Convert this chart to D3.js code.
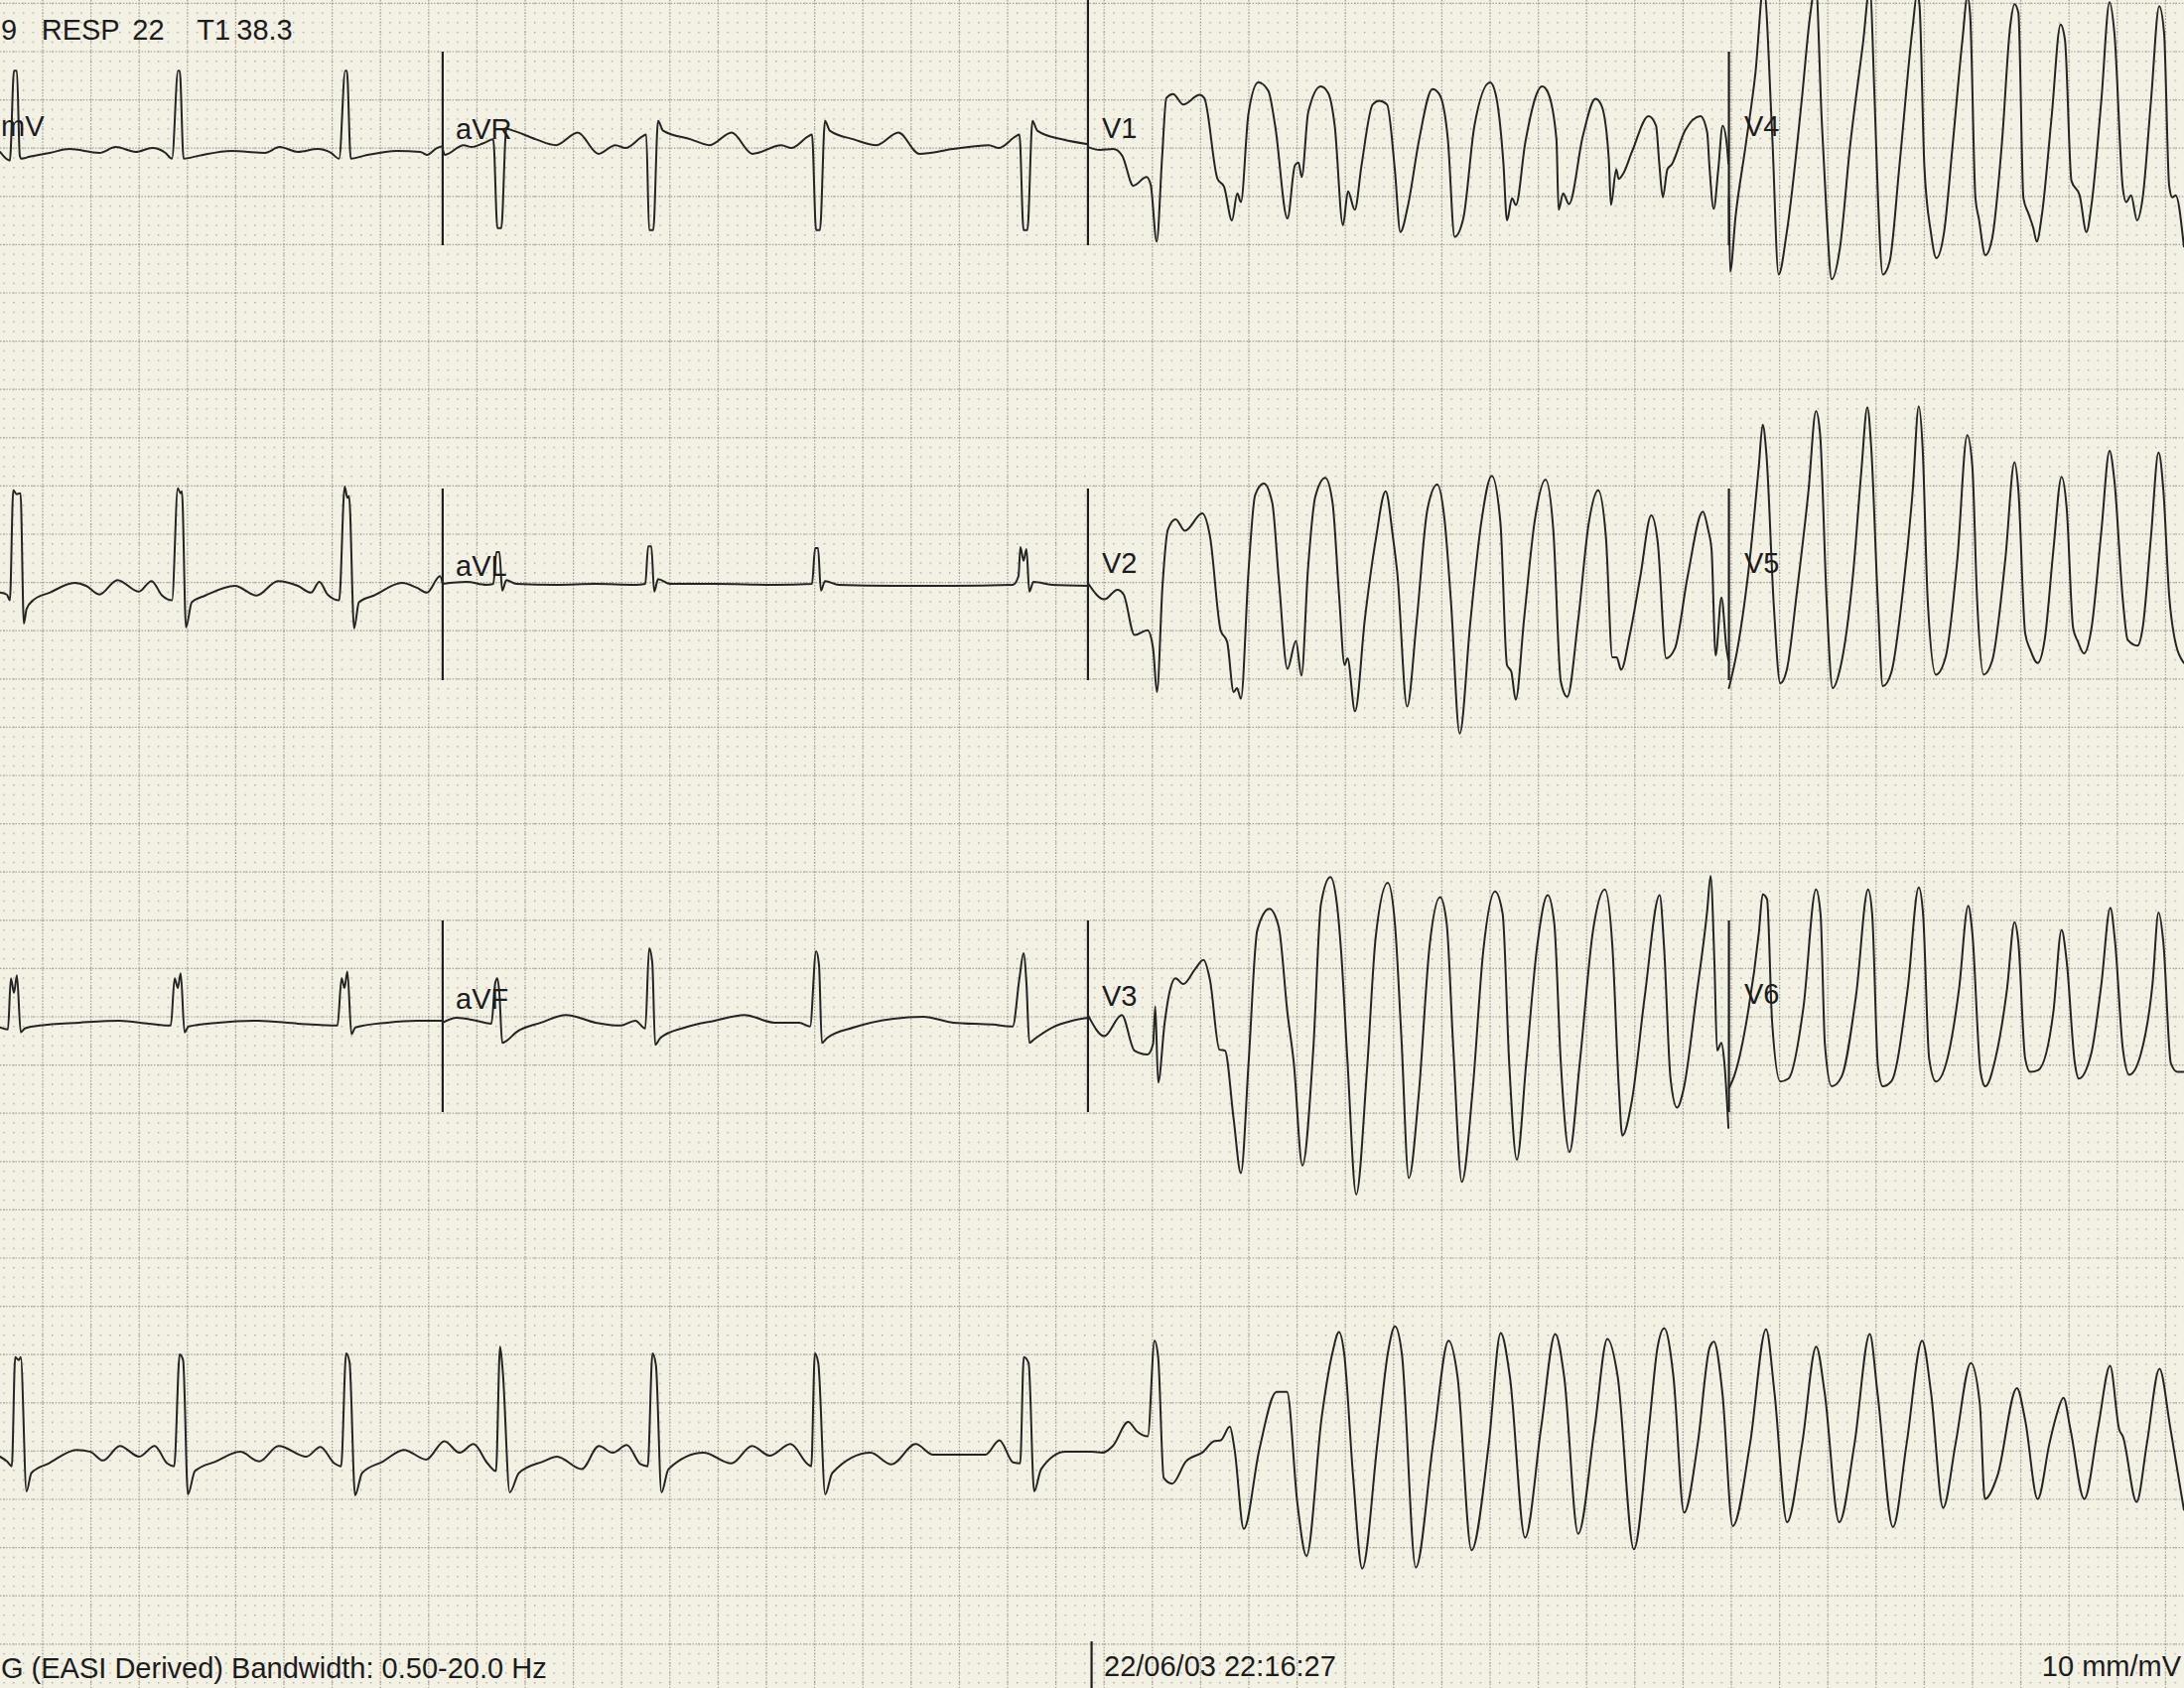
<!DOCTYPE html>
<html><head><meta charset="utf-8">
<script src="https://cdn.jsdelivr.net/npm/d3@7"></script>
<style>html,body{margin:0;padding:0;background:#f3f1e6;overflow:hidden}svg{display:block}</style>
</head><body><svg id="c" width="2200" height="1700"></svg>
<script>
// ---- DATA: [time (s), amplitude (mV)] ----
const leadI=[[0,-0.01],[0.041,-0.10],[0.058,0.83],[0.070,0.83],[0.082,-0.05],[0.089,-0.08],[0.123,-0.06],[0.206,-0.02],[0.288,0.02],[0.412,-0.02],[0.480,0.04],[0.563,-0.01],[0.631,0.03],[0.686,-0.02],[0.713,-0.08],[0.738,0.83],[0.745,0.83],[0.761,-0.08],[0.823,-0.05],[0.960,0.00],[1.098,-0.02],[1.159,0.04],[1.235,-0.01],[1.317,0.02],[1.372,-0.02],[1.406,-0.08],[1.431,0.83],[1.438,0.83],[1.454,-0.08],[1.509,-0.05],[1.646,0.00],[1.742,-0.01],[1.770,-0.04],[1.811,0.03],[1.835,0.05]];
const leadII=[[0,-0.07],[0.028,-0.09],[0.041,-0.15],[0.055,0.99],[0.069,0.95],[0.085,0.96],[0.099,-0.39],[0.110,-0.24],[0.137,-0.15],[0.206,-0.07],[0.309,0.03],[0.357,0.00],[0.412,-0.09],[0.487,0.06],[0.576,-0.06],[0.628,0.05],[0.672,-0.10],[0.713,-0.15],[0.737,1.01],[0.748,0.96],[0.754,0.98],[0.771,-0.43],[0.795,-0.17],[0.851,-0.10],[0.974,0.00],[1.063,-0.10],[1.152,0.05],[1.235,0.00],[1.289,-0.07],[1.324,0.04],[1.358,-0.09],[1.406,-0.15],[1.429,1.03],[1.440,0.91],[1.447,0.93],[1.468,-0.44],[1.488,-0.17],[1.550,-0.10],[1.667,0.03],[1.728,-0.02],[1.770,-0.07],[1.824,0.10],[1.835,0.02]];
const leadIII=[[0,-0.08],[0.033,-0.10],[0.045,0.43],[0.058,0.28],[0.070,0.46],[0.086,-0.13],[0.103,-0.09],[0.165,-0.06],[0.329,-0.03],[0.494,-0.01],[0.617,-0.04],[0.708,-0.06],[0.724,0.43],[0.737,0.33],[0.749,0.48],[0.765,-0.13],[0.782,-0.07],[0.905,-0.03],[1.070,-0.01],[1.235,-0.04],[1.399,-0.06],[1.416,0.43],[1.428,0.33],[1.440,0.50],[1.457,-0.15],[1.473,-0.08],[1.605,-0.03],[1.728,-0.01],[1.835,-0.01]];
const aVR=[[1.835,0.02],[1.844,-0.04],[1.922,0.06],[1.955,0.04],[2.004,0.08],[2.045,0.12],[2.062,-0.80],[2.078,-0.80],[2.099,0.23],[2.128,0.21],[2.222,0.12],[2.305,0.06],[2.395,0.19],[2.481,-0.03],[2.551,0.06],[2.593,0.03],[2.663,0.15],[2.679,0.17],[2.691,-0.82],[2.708,-0.82],[2.728,0.31],[2.749,0.21],[2.864,0.12],[2.942,0.06],[3.033,0.19],[3.119,-0.03],[3.239,0.06],[3.280,0.03],[3.350,0.15],[3.366,0.17],[3.383,-0.82],[3.399,-0.82],[3.420,0.31],[3.440,0.21],[3.539,0.12],[3.634,0.06],[3.724,0.19],[3.811,-0.03],[3.951,0.02],[4.099,0.06],[4.140,0.03],[4.210,0.15],[4.226,0.17],[4.243,-0.82],[4.259,-0.82],[4.280,0.31],[4.300,0.21],[4.403,0.12],[4.510,0.07]];
const aVL=[[1.835,0.02],[1.934,0.04],[2.016,0.01],[2.045,0.02],[2.058,0.35],[2.070,0.35],[2.082,-0.05],[2.099,0.06],[2.140,0.02],[2.305,0.01],[2.469,0.02],[2.634,0.01],[2.675,0.02],[2.687,0.41],[2.700,0.41],[2.712,-0.06],[2.728,0.07],[2.778,0.02],[2.963,0.02],[3.210,0.01],[3.366,0.02],[3.379,0.39],[3.391,0.39],[3.403,-0.05],[3.420,0.05],[3.477,0.01],[3.704,0.00],[3.951,0.00],[4.198,0.01],[4.222,0.10],[4.230,0.40],[4.243,0.26],[4.255,0.38],[4.267,-0.06],[4.284,0.04],[4.362,0.01],[4.510,0.00]];
const aVF=[[1.835,-0.03],[1.893,0.02],[1.975,-0.01],[2.037,-0.04],[2.053,0.38],[2.062,0.43],[2.070,0.28],[2.082,-0.24],[2.099,-0.22],[2.140,-0.13],[2.243,-0.03],[2.346,0.05],[2.469,-0.03],[2.572,-0.06],[2.634,-0.01],[2.675,-0.09],[2.691,0.74],[2.704,0.59],[2.716,-0.26],[2.737,-0.19],[2.840,-0.08],[2.963,-0.01],[3.086,0.05],[3.210,-0.03],[3.313,-0.03],[3.358,-0.07],[3.383,0.71],[3.395,0.57],[3.407,-0.24],[3.428,-0.19],[3.539,-0.08],[3.704,0.01],[3.827,0.03],[3.951,-0.03],[4.115,-0.05],[4.198,-0.07],[4.226,0.43],[4.243,0.69],[4.255,0.38],[4.267,-0.24],[4.288,-0.20],[4.362,-0.08],[4.444,-0.01],[4.510,0.02]];
const V1=[[4.510,0.04],[4.560,0.01],[4.615,0.02],[4.652,-0.05],[4.698,-0.36],[4.753,-0.27],[4.770,-0.35],[4.795,-0.94],[4.817,-0.08],[4.835,0.55],[4.863,0.59],[4.905,0.48],[4.973,0.58],[4.992,0.55],[5.047,-0.29],[5.074,-0.37],[5.107,-0.72],[5.129,-0.44],[5.144,-0.53],[5.175,0.38],[5.216,0.71],[5.258,0.62],[5.286,0.26],[5.337,-0.70],[5.368,-0.15],[5.383,-0.12],[5.396,-0.27],[5.423,0.40],[5.475,0.67],[5.506,0.60],[5.533,0.26],[5.567,-0.77],[5.588,-0.42],[5.616,-0.61],[5.644,-0.15],[5.690,0.48],[5.717,0.52],[5.750,0.48],[5.782,-0.19],[5.805,-0.84],[5.837,-0.56],[5.883,0.12],[5.938,0.64],[5.966,0.59],[6.002,0.12],[6.030,-0.89],[6.066,-0.70],[6.112,0.26],[6.177,0.71],[6.199,0.60],[6.232,-0.12],[6.247,-0.72],[6.268,-0.49],[6.284,-0.56],[6.323,0.09],[6.393,0.67],[6.416,0.61],[6.452,0.12],[6.461,-0.61],[6.480,-0.44],[6.504,-0.55],[6.562,0.16],[6.614,0.54],[6.639,0.47],[6.669,-0.08],[6.678,-0.56],[6.700,-0.19],[6.710,-0.29],[6.728,-0.24],[6.765,-0.01],[6.834,0.36],[6.865,0.26],[6.878,-0.12],[6.893,-0.48],[6.912,-0.19],[6.930,-0.14],[6.985,0.21],[7.049,0.36],[7.077,0.19],[7.086,-0.15],[7.104,-0.60],[7.123,-0.19],[7.141,0.26],[7.159,0.05],[7.165,-0.13]];
const V2=[[4.512,0.02],[4.578,-0.14],[4.632,-0.04],[4.658,-0.09],[4.703,-0.51],[4.757,-0.46],[4.780,-0.65],[4.796,-1.10],[4.819,0.00],[4.841,0.58],[4.873,0.69],[4.912,0.57],[4.984,0.75],[5.016,0.51],[5.060,-0.46],[5.087,-0.58],[5.114,-1.10],[5.128,-1.06],[5.144,-1.17],[5.176,0.17],[5.203,0.94],[5.239,1.06],[5.274,0.86],[5.301,0.07],[5.337,-0.86],[5.372,-0.57],[5.395,-0.93],[5.422,0.17],[5.453,0.93],[5.494,1.12],[5.524,0.86],[5.551,-0.10],[5.574,-0.82],[5.586,-0.75],[5.617,-1.30],[5.658,-0.34],[5.703,0.48],[5.744,0.98],[5.774,0.51],[5.792,0.14],[5.833,-1.25],[5.872,-0.38],[5.917,0.79],[5.958,1.05],[5.988,0.69],[6.015,-0.17],[6.051,-1.53],[6.095,-0.38],[6.140,0.65],[6.184,1.14],[6.220,0.65],[6.247,-0.82],[6.265,-0.89],[6.283,-1.18],[6.318,-0.34],[6.363,0.69],[6.407,1.10],[6.439,0.58],[6.470,-0.99],[6.497,-1.15],[6.541,-0.38],[6.586,0.65],[6.625,0.99],[6.657,0.51],[6.684,-0.74],[6.702,-0.74],[6.720,-0.87],[6.756,-0.51],[6.800,0.10],[6.845,0.73],[6.872,0.45],[6.907,-0.75],[6.943,-0.65],[6.996,0.10],[7.059,0.77],[7.081,0.58],[7.095,0.38],[7.112,-0.72],[7.136,-0.12],[7.157,-0.65],[7.165,-0.77]];
const V3=[[4.512,0.04],[4.578,-0.17],[4.650,0.05],[4.703,-0.32],[4.757,-0.36],[4.780,-0.25],[4.789,0.14],[4.801,-0.65],[4.828,-0.03],[4.846,0.26],[4.873,0.43],[4.905,0.37],[4.953,0.52],[4.989,0.62],[5.016,0.41],[5.055,-0.31],[5.078,-0.32],[5.114,-1.03],[5.144,-1.59],[5.176,-0.44],[5.212,0.93],[5.262,1.15],[5.301,0.96],[5.337,0.07],[5.363,-0.44],[5.399,-1.51],[5.444,-0.31],[5.476,1.20],[5.515,1.48],[5.542,1.20],[5.560,0.69],[5.586,-0.44],[5.622,-1.81],[5.667,-0.51],[5.703,0.86],[5.753,1.42],[5.783,0.98],[5.809,-0.17],[5.840,-1.64],[5.881,-0.78],[5.926,0.76],[5.970,1.27],[5.997,1.00],[6.024,-0.27],[6.060,-1.68],[6.104,-0.75],[6.149,0.72],[6.197,1.33],[6.229,1.10],[6.256,-0.44],[6.288,-1.45],[6.327,-0.44],[6.372,0.76],[6.416,1.29],[6.443,1.00],[6.470,-0.44],[6.506,-1.37],[6.549,-0.44],[6.604,0.93],[6.653,1.35],[6.684,0.76],[6.711,-0.72],[6.725,-1.20],[6.764,-0.85],[6.818,0.24],[6.880,1.29],[6.898,0.76],[6.925,-0.61],[6.952,-0.91],[6.979,-0.72],[7.032,0.24],[7.077,1.13],[7.091,1.49],[7.107,0.59],[7.118,-0.32],[7.136,-0.24],[7.148,-0.44],[7.165,-1.12]];
const V4=[[7.167,-0.49],[7.172,-1.25],[7.195,-0.67],[7.236,0.05],[7.277,0.81],[7.311,1.71],[7.346,0.19],[7.373,-1.28],[7.407,-0.84],[7.469,0.53],[7.503,1.39],[7.527,1.73],[7.551,0.36],[7.572,-0.67],[7.593,-1.33],[7.627,-1.01],[7.668,0.02],[7.723,1.12],[7.751,1.69],[7.771,0.53],[7.785,-0.49],[7.805,-1.28],[7.833,-1.15],[7.874,-0.15],[7.929,1.29],[7.947,1.63],[7.957,1.51],[7.977,-0.15],[8.004,-0.84],[8.027,-1.11],[8.059,-0.84],[8.093,0.02],[8.135,1.15],[8.156,1.60],[8.167,1.41],[8.189,-0.49],[8.203,-0.70],[8.230,-1.08],[8.258,-0.91],[8.299,0.09],[8.333,1.29],[8.351,1.52],[8.367,1.43],[8.388,-0.49],[8.409,-0.65],[8.429,-0.80],[8.443,-0.94],[8.464,-0.67],[8.505,0.36],[8.542,1.31],[8.560,1.15],[8.587,-0.31],[8.621,-0.46],[8.649,-0.84],[8.670,-0.56],[8.711,0.53],[8.745,1.54],[8.765,1.22],[8.800,-0.39],[8.814,-0.53],[8.834,-0.46],[8.859,-0.72],[8.882,-0.49],[8.917,0.53],[8.951,1.50],[8.971,1.22],[8.992,-0.36],[9.005,-0.48],[9.019,-0.46],[9.053,-0.99]];
const V5=[[7.167,-1.06],[7.202,-0.66],[7.256,0.33],[7.291,1.24],[7.307,1.67],[7.322,1.38],[7.353,-0.20],[7.380,-1.01],[7.407,-0.87],[7.449,-0.06],[7.497,0.99],[7.528,1.81],[7.545,1.57],[7.572,-0.15],[7.597,-1.06],[7.627,-0.87],[7.682,0.13],[7.716,1.19],[7.741,1.85],[7.757,1.43],[7.785,-0.20],[7.805,-1.04],[7.840,-0.90],[7.888,-0.06],[7.929,0.99],[7.954,1.86],[7.970,1.43],[7.991,-0.15],[8.025,-0.92],[8.066,-0.73],[8.114,0.28],[8.155,1.56],[8.176,1.24],[8.196,-0.15],[8.223,-0.92],[8.258,-0.78],[8.313,0.28],[8.351,1.28],[8.367,0.99],[8.395,-0.49],[8.416,-0.66],[8.447,-0.80],[8.477,-0.54],[8.512,0.37],[8.546,1.13],[8.567,0.81],[8.594,-0.44],[8.614,-0.58],[8.639,-0.70],[8.670,-0.44],[8.711,0.57],[8.745,1.40],[8.765,1.09],[8.800,-0.15],[8.820,-0.56],[8.861,-0.62],[8.882,-0.44],[8.917,0.52],[8.948,1.38],[8.968,0.99],[8.992,-0.10],[9.012,-0.51],[9.053,-0.80]];
const V6=[[7.167,-0.71],[7.188,-0.59],[7.243,0.03],[7.291,0.90],[7.307,1.30],[7.325,1.25],[7.346,-0.02],[7.380,-0.64],[7.414,-0.61],[7.476,0.13],[7.528,1.35],[7.547,1.09],[7.565,-0.26],[7.593,-0.69],[7.634,-0.59],[7.695,0.27],[7.744,1.35],[7.761,1.09],[7.785,-0.49],[7.805,-0.69],[7.840,-0.64],[7.908,0.32],[7.954,1.37],[7.972,1.09],[7.997,-0.40],[8.025,-0.64],[8.073,-0.40],[8.121,0.32],[8.159,1.18],[8.176,0.90],[8.210,-0.54],[8.230,-0.69],[8.272,-0.40],[8.320,0.32],[8.351,1.01],[8.367,0.80],[8.395,-0.40],[8.416,-0.54],[8.450,-0.52],[8.512,0.08],[8.546,0.93],[8.567,0.61],[8.601,-0.45],[8.617,-0.61],[8.669,-0.35],[8.711,0.37],[8.748,1.16],[8.768,0.80],[8.800,-0.30],[8.827,-0.57],[8.875,-0.35],[8.923,0.37],[8.948,1.11],[8.968,0.80],[8.999,-0.45],[9.026,-0.54],[9.053,-0.54]];
const rhythm=[[0,-0.01],[0.029,-0.06],[0.049,-0.11],[0.063,1.02],[0.078,0.99],[0.086,1.02],[0.110,-0.37],[0.130,-0.18],[0.202,-0.08],[0.318,0.06],[0.375,0.04],[0.427,-0.05],[0.497,0.10],[0.577,-0.01],[0.641,0.10],[0.693,-0.08],[0.722,-0.11],[0.745,1.05],[0.759,0.99],[0.779,-0.40],[0.808,-0.16],[0.895,-0.06],[0.996,0.04],[1.074,-0.06],[1.155,0.10],[1.270,-0.01],[1.328,0.09],[1.386,-0.08],[1.414,-0.11],[1.435,1.06],[1.449,0.97],[1.472,-0.41],[1.501,-0.18],[1.588,-0.06],[1.674,0.06],[1.767,-0.04],[1.842,0.15],[1.905,0.03],[1.963,0.12],[2.021,-0.08],[2.056,-0.16],[2.073,1.13],[2.084,0.88],[2.113,-0.38],[2.151,-0.18],[2.252,-0.06],[2.309,-0.01],[2.411,-0.14],[2.483,0.10],[2.540,0.03],[2.598,0.11],[2.656,-0.09],[2.685,-0.11],[2.705,1.06],[2.719,0.94],[2.742,-0.38],[2.771,-0.14],[2.916,0.03],[3.031,-0.08],[3.118,0.10],[3.190,0.00],[3.277,0.12],[3.349,-0.09],[3.363,-0.11],[3.378,1.06],[3.392,0.96],[3.421,-0.40],[3.450,-0.18],[3.609,0.03],[3.695,-0.09],[3.796,0.12],[3.868,0.01],[4.085,0.01],[4.143,0.16],[4.200,-0.07],[4.229,-0.08],[4.244,1.02],[4.264,0.96],[4.287,-0.37],[4.316,-0.14],[4.417,0.04],[4.527,0.04],[4.570,0.03],[4.613,0.10],[4.677,0.35],[4.714,0.25],[4.758,0.20],[4.786,1.19],[4.801,1.02],[4.824,-0.23],[4.859,-0.29],[4.916,-0.06],[4.988,0.04],[5.032,0.15],[5.061,0.16],[5.098,0.30],[5.118,0.06],[5.156,-0.76],[5.220,0.06],[5.292,0.66],[5.335,0.66],[5.378,-0.49],[5.416,-1.04],[5.479,0.40],[5.523,1.06],[5.551,1.28],[5.572,1.06],[5.609,-0.21],[5.647,-1.17],[5.710,0.13],[5.753,1.06],[5.783,1.34],[5.811,1.06],[5.869,-1.16],[5.941,0.13],[6.005,1.19],[6.042,0.82],[6.100,-0.98],[6.172,0.13],[6.221,1.27],[6.259,0.82],[6.322,-0.85],[6.389,0.30],[6.447,1.26],[6.484,0.82],[6.542,-0.81],[6.611,0.30],[6.663,1.21],[6.706,0.82],[6.773,-0.97],[6.836,0.30],[6.871,1.12],[6.899,1.32],[6.937,0.82],[6.981,-0.59],[7.038,0.13],[7.087,1.12],[7.105,1.18],[7.140,0.65],[7.183,-0.73],[7.255,0.13],[7.321,1.31],[7.356,0.65],[7.408,-0.69],[7.471,0.13],[7.529,1.13],[7.564,0.65],[7.624,-0.69],[7.688,0.13],[7.751,1.26],[7.783,0.65],[7.847,-0.74],[7.904,0.13],[7.968,1.19],[8.005,0.65],[8.055,-0.54],[8.107,0.13],[8.170,0.96],[8.207,0.54],[8.228,-0.45],[8.280,-0.21],[8.361,0.70],[8.395,0.37],[8.447,-0.45],[8.496,0.13],[8.525,0.42],[8.554,0.60],[8.583,0.27],[8.640,-0.45],[8.698,0.30],[8.747,0.93],[8.785,0.27],[8.800,0.20],[8.857,-0.48],[8.900,0.13],[8.952,0.90],[8.996,0.30],[9.053,-0.56]];

const leadNames=["I","aVR","V1","V4","II","aVL","V2","V5","III","aVF","V3","V6","II"];
const headerTokens=["9","RESP","22","T1","38.3"];
const footerTexts=["G (EASI Derived) Bandwidth: 0.50-20.0 Hz","22/06/03 22:16:27","10 mm/mV"];

// ---- LAYOUT ----
const W=2200,H=1700;
const PX_PER_S=243, PX_PER_MV=97.2;
const x=d3.scaleLinear().domain([0,W/PX_PER_S]).range([0,W]);
const rowBase=[152,590,1027,1466];
const yRow=rowBase.map(b=>d3.scaleLinear().domain([0,1]).range([b,b-PX_PER_MV]));
const gridT0=43/PX_PER_S, gridY0=3.4, MM=PX_PER_MV/10;
const yPaper=d3.scaleLinear().domain([0,1]).range([gridY0,gridY0+MM]);

const svg=d3.select('#c');
svg.append('rect').attr('width',W).attr('height',H).attr('fill','#f3f0e4');
const defs=svg.append('defs');
const pat=defs.append('pattern').attr('id','minor').attr('patternUnits','userSpaceOnUse')
  .attr('x',x(gridT0)-0.7).attr('y',gridY0-0.7).attr('width',MM).attr('height',MM);
pat.append('rect').attr('width',1.4).attr('height',1.4).attr('fill','#a9a79c');
svg.append('rect').attr('width',W).attr('height',H).attr('fill','url(#minor)');

const grid=svg.append('g').attr('stroke','#a3a196').attr('stroke-width',1.2).attr('stroke-dasharray','1.4,1.7');
d3.range(0,47).forEach(k=>{const px=x(gridT0+k*0.2);
  grid.append('line').attr('x1',px).attr('x2',px).attr('y1',0).attr('y2',H);});
d3.range(0,36).forEach(k=>{const py=yPaper(k*5);
  grid.append('line').attr('x1',0).attr('x2',W).attr('y1',py).attr('y2',py);});

// separators
const sep=svg.append('g').attr('stroke','#1e1e1e').attr('stroke-width',2.2);
const colT=[1.835,4.510,7.167];
const barSpan=[[52,247],[492,685],[927,1120]];
colT.forEach((t,ci)=>barSpan.forEach((s,ri)=>{
  const y1=(ci===1&&ri===0)?0:s[0];
  sep.append('line').attr('x1',x(t)).attr('x2',x(t)).attr('y1',y1).attr('y2',s[1]);
}));
sep.append('line').attr('x1',x(4.525)).attr('x2',x(4.525)).attr('y1',1653).attr('y2',H);

// traces
const traces=[[leadI,0],[aVR,0],[V1,0],[V4,0],[leadII,1],[aVL,1],[V2,1],[V5,1],[leadIII,2],[aVF,2],[V3,2],[V6,2],[rhythm,3]];
const tg=svg.append('g').attr('fill','none').attr('stroke','#242424').attr('stroke-width',2)
  .attr('stroke-linejoin','round').attr('stroke-linecap','round');
traces.forEach(([data,r])=>{
  const line=d3.line().x(d=>x(d[0])).y(d=>yRow[r](d[1])).curve(d3.curveMonotoneX);
  tg.append('path').attr('d',line(data));
});

// texts
const font='"Liberation Sans", Arial, sans-serif';
const tx=svg.append('g').attr('fill','#1c1c1c').attr('font-family',font).attr('font-size',29);
const labelPos=[[1,137,"mV"],[459,140,"aVR"],[1110,139,"V1"],[1757,137,"V4"],
  [459,580,"aVL"],[1110,577,"V2"],[1757,577,"V5"],[459,1016,"aVF"],[1110,1013,"V3"],[1757,1011,"V6"]];
labelPos.forEach(([lx,ly,s])=>tx.append('text').attr('x',lx).attr('y',ly).text(s));
const headerX=[1,41.7,133.3,198.3,238.3];
headerTokens.forEach((s,i)=>tx.append('text').attr('x',headerX[i]).attr('y',40).text(s));
tx.append('text').attr('x',1).attr('y',1690).text(footerTexts[0]);
tx.append('text').attr('x',1112).attr('y',1688).text(footerTexts[1]);
tx.append('text').attr('x',2197).attr('y',1688).attr('text-anchor','end').text(footerTexts[2]);
</script></body></html>
